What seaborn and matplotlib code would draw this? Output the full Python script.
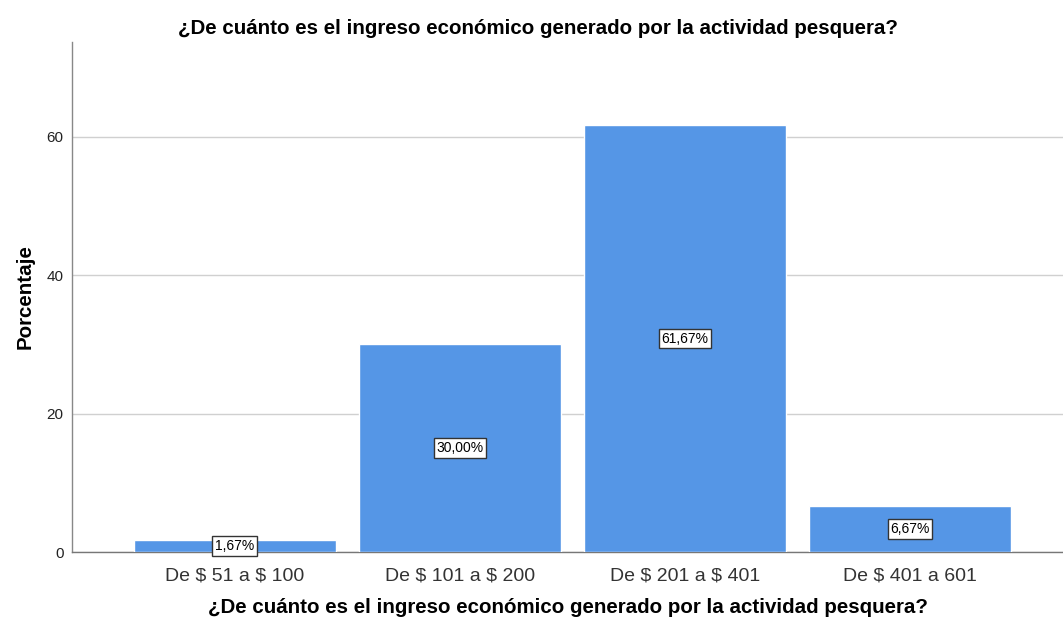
import pandas as pd
import matplotlib
matplotlib.use('Agg')
import matplotlib.pyplot as plt
import seaborn as sns

# Data
categorias = ['De $ 51 a $ 100', 'De $ 101 a $ 200', 'De $ 201 a $ 401', 'De $ 401 a 601']
porcentajes = [1.67, 30.00, 61.67, 6.67]
etiquetas = ['1,67%', '30,00%', '61,67%', '6,67%']

df = pd.DataFrame({'categoria': categorias, 'porcentaje': porcentajes})

sns.set_style('white')
plt.rcParams['font.family'] = ['Liberation Sans', 'DejaVu Sans']
plt.rcParams['text.parse_math'] = False

fig = plt.figure(figsize=(10.63, 6.25), dpi=100)
ax = fig.add_axes([0.0677, 0.1168, 0.9323, 0.816])

sns.barplot(data=df, x='categoria', y='porcentaje', color='#5596E6', saturation=1,
            width=0.9, ax=ax, zorder=3)

# value labels in boxes at the middle of each bar
for i, (v, t) in enumerate(zip(porcentajes, etiquetas)):
    ax.text(i, v / 2, t, ha='center', va='center', fontsize=10, color='black', zorder=5,
            bbox=dict(boxstyle='square,pad=0.2', facecolor='white', edgecolor='#333333', linewidth=1))

ax.set_ylim(0, 73.7)
ax.set_xlim(-0.724, 3.68)
ax.set_yticks([0, 20, 40, 60])
ax.yaxis.grid(True, color='#d0d0d0', linewidth=1, zorder=0)
ax.tick_params(axis='both', length=0)
ax.tick_params(axis='x', labelsize=14, labelcolor='#333333', pad=11)
ax.tick_params(axis='y', labelsize=11, labelcolor='#222222', pad=6)

for s in ['top', 'right']:
    ax.spines[s].set_visible(False)
ax.spines['left'].set_color('#888888')
ax.spines['bottom'].set_color('#777777')
ax.spines['left'].set_linewidth(1)
ax.spines['bottom'].set_linewidth(1)

ax.set_xlabel('¿De cuánto es el ingreso económico generado por la actividad pesquera?',
              fontsize=14.8, fontweight='bold', labelpad=10, color='black')
ax.set_ylabel('Porcentaje', fontsize=14.8, fontweight='bold', labelpad=9, color='black')
fig.text(538 / 1063, 1 - 28 / 625, '¿De cuánto es el ingreso económico generado por la actividad pesquera?',
         ha='center', va='center', fontsize=14.8, fontweight='bold', color='black')

fig.savefig('out.png', dpi=100)
